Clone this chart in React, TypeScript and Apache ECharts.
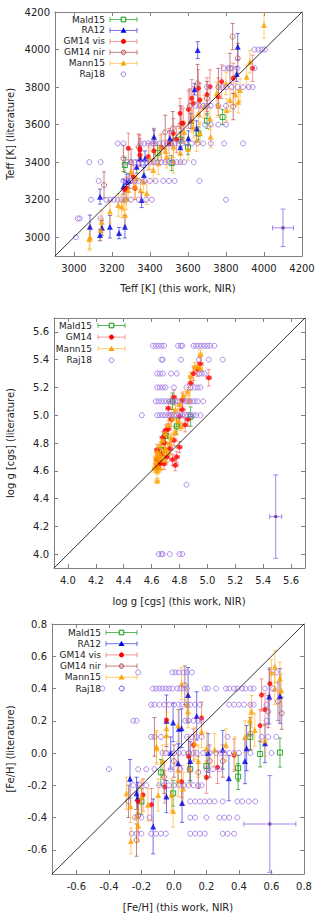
import React, { useEffect, useRef } from "react";
import * as echarts from "echarts";

// ---------- Panel 1: Teff ----------
const teffTicks = [3000, 3200, 3400, 3600, 3800, 4000, 4200];
const teffMald15 = [[3782, 3640, 40], [3655, 3553, 35], [3268, 3385, 40], [3514, 3395, 40], [3600, 3480, 40], [3700, 3620, 40], [3440, 3450, 40], [3560, 3520, 40]];
const teffRA12 = [[3084, 3056, 62], [3137, 3012, 30], [3147, 3050, 40], [3189, 3056, 60], [3237, 3022, 30], [3268, 3056, 60], [3137, 3216, 40], [3277, 3296, 40], [3260, 3270, 40], [3356, 3198, 40], [3368, 3331, 40], [3330, 3376, 35], [3374, 3420, 40], [3421, 3536, 35], [3505, 3527, 40], [3602, 3527, 40], [3635, 3788, 30], [3645, 3580, 40], [3616, 3620, 40], [3651, 3997, 45], [3862, 4015, 70], [3856, 3870, 40], [3290, 3300, 40], [3350, 3420, 40], [3560, 3480, 40]];
const teffGM14vis = [[3286, 3474, 80], [3347, 3474, 70], [3567, 3607, 90], [3602, 3681, 100], [3655, 3793, 100], [3716, 3802, 90], [3663, 3731, 90], [3759, 3749, 100], [3838, 3847, 80], [3940, 3900, 70], [3777, 3829, 90], [3558, 3660, 80], [3628, 3713, 90], [3347, 3438, 60], [3391, 3429, 70], [3312, 3322, 60], [3277, 3261, 60], [3321, 3261, 60], [3268, 3252, 50], [3347, 3465, 60], [3523, 3553, 80], [3575, 3607, 80], [3460, 3480, 70], [3500, 3500, 80], [3620, 3740, 100], [3700, 3760, 90], [3540, 3520, 70], [3420, 3460, 70]];
const teffGM14nir = [[3835, 4069, 70], [3862, 3953, 80], [3821, 3900, 80], [3838, 3696, 70], [3158, 3278, 70], [3260, 3420, 70], [3340, 3480, 70], [3420, 3500, 80], [3480, 3560, 90], [3560, 3600, 100], [3610, 3700, 90], [3700, 3740, 90], [3760, 3800, 100], [3300, 3400, 70], [3520, 3580, 90], [3650, 3820, 100]];
const teffMann15 = [[3084, 2999, 60], [3146, 3083, 60], [3189, 3137, 60], [3233, 3172, 60], [3251, 3163, 60], [3268, 3118, 60], [3277, 3207, 60], [3286, 3252, 60], [3321, 3269, 60], [3330, 3314, 60], [3365, 3296, 60], [3383, 3234, 60], [3417, 3358, 60], [3444, 3394, 60], [3488, 3429, 60], [3523, 3402, 60], [3560, 3450, 60], [3600, 3470, 60], [4000, 4131, 70], [3926, 3935, 60], [3909, 3855, 60], [3874, 3784, 60], [3865, 3722, 60], [3821, 3731, 60], [3850, 3760, 60], [3803, 3678, 60], [3751, 3767, 60], [3716, 3633, 60], [3684, 3695, 60], [3655, 3660, 60], [3628, 3589, 60], [3719, 3536, 60], [3663, 3554, 60], [3645, 3518, 60], [3523, 3483, 60], [3453, 3483, 60], [3140, 3040, 60], [3080, 2990, 60], [3300, 3350, 60], [3400, 3420, 60], [3480, 3460, 60], [3580, 3560, 60], [3620, 3620, 60], [3760, 3700, 60], [3800, 3820, 60], [3260, 3200, 60], [3350, 3250, 60]];
const teffRaj18Rows: [number, number[]][] = [
  [4000, [3950, 3970, 3990, 4005]],
  [3900, [3790, 3810, 3830, 3860, 3950]],
  [3800, [3700, 3780, 3800, 3830, 3860, 3890, 3920, 3940]],
  [3700, [3640, 3660, 3680, 3700, 3720, 3760, 3800]],
  [3600, [3690, 3720, 3760, 3800]],
  [3500, [3230, 3260, 3350, 3370, 3390, 3410, 3430, 3450, 3470, 3490, 3510, 3530, 3550, 3570, 3590, 3620, 3650, 3680, 3720, 3790, 3890]],
  [3400, [3080, 3140, 3280, 3300, 3320, 3340, 3360, 3380, 3400, 3420, 3440, 3460, 3480, 3500, 3520, 3540, 3560, 3580, 3630]],
  [3300, [3130, 3260, 3280, 3300, 3320, 3340, 3370, 3400, 3430, 3470, 3500, 3530, 3660]],
  [3200, [3090, 3170, 3190, 3210, 3230, 3250, 3270, 3300, 3340, 3380, 3410, 3800]],
  [3100, [3020, 3030, 3140]],
  [3000, [3010]],
];
const teffTypical = [[4100, 3050, 100, 55]];

// ---------- Panel 2: log g ----------
const loggTicks = [4.0, 4.2, 4.4, 4.6, 4.8, 5.0, 5.2, 5.4, 5.6];
const loggMald15 = [[4.88, 4.99, 0.07], [4.75, 5.10, 0.06], [4.70, 4.85, 0.05], [4.67, 4.75, 0.05], [4.78, 4.92, 0.06]];
const loggGM14 = [[4.95, 5.37, 0.05], [5.01, 5.27, 0.06], [4.88, 5.23, 0.05], [4.93, 5.33, 0.05], [4.76, 5.13, 0.05], [4.82, 5.11, 0.05], [4.72, 5.05, 0.05], [4.82, 5.04, 0.05], [4.74, 4.97, 0.05], [4.80, 4.99, 0.05], [4.86, 4.97, 0.05], [4.70, 4.89, 0.04], [4.76, 4.82, 0.04], [4.69, 4.80, 0.04], [4.64, 4.75, 0.04], [4.66, 4.65, 0.04], [4.71, 4.70, 0.04], [4.78, 4.70, 0.04], [4.80, 4.77, 0.04], [4.64, 4.63, 0.04], [4.69, 4.65, 0.04], [4.77, 4.64, 0.04], [4.64, 4.68, 0.04], [4.67, 4.72, 0.04], [4.73, 4.76, 0.04], [4.75, 4.68, 0.04], [4.68, 4.84, 0.04], [4.72, 4.90, 0.04], [4.84, 4.93, 0.05], [4.90, 5.30, 0.05], [4.66, 4.66, 0.04]];
const loggMann15 = [[4.95, 5.44, 0.03], [4.93, 5.35, 0.03], [4.95, 5.34, 0.03], [4.88, 5.28, 0.03], [4.91, 5.35, 0.03], [4.86, 5.17, 0.03], [4.83, 5.14, 0.03], [4.80, 5.08, 0.03], [4.77, 5.04, 0.03], [4.75, 4.98, 0.03], [4.79, 4.96, 0.03], [4.72, 4.93, 0.03], [4.70, 4.87, 0.03], [4.74, 4.84, 0.03], [4.68, 4.82, 0.03], [4.66, 4.78, 0.03], [4.70, 4.76, 0.03], [4.64, 4.74, 0.03], [4.66, 4.72, 0.03], [4.63, 4.70, 0.03], [4.65, 4.68, 0.03], [4.63, 4.66, 0.03], [4.64, 4.64, 0.03], [4.62, 4.62, 0.03], [4.64, 4.60, 0.03], [4.64, 4.53, 0.02], [4.67, 4.70, 0.03], [4.69, 4.74, 0.03], [4.73, 4.80, 0.03], [4.77, 4.88, 0.03], [4.81, 4.92, 0.03], [4.69, 4.68, 0.03], [4.72, 4.73, 0.03], [4.66, 4.62, 0.03], [4.87, 5.11, 0.03]];
const loggRaj18Rows: [number, number[]][] = [
  [5.5, [4.61, 4.63, 4.65, 4.67, 4.69, 4.79, 4.81, 4.82, 4.90, 4.92, 4.94, 4.96, 4.98, 5.00, 5.02, 5.05]],
  [5.4, [4.67, 4.68, 4.81, 4.94, 5.01, 5.11]],
  [5.3, [4.64, 4.66, 4.68, 4.74, 4.78, 4.94, 4.96, 4.98]],
  [5.2, [4.64, 4.66, 4.68, 4.70, 4.76, 4.85, 4.88, 4.91, 4.93, 4.95]],
  [5.1, [4.63, 4.65, 4.67, 4.69, 4.71, 4.73, 4.75, 4.77, 4.79, 4.83, 4.85, 4.87, 4.89, 4.91, 4.93, 4.97]],
  [5.0, [4.53, 4.64, 4.66, 4.68, 4.70, 4.72, 4.74, 4.76, 4.78, 4.80, 4.82, 4.84, 4.86, 4.88, 4.90, 4.92, 4.95]],
  [4.5, [4.85]],
  [4.0, [4.65, 4.67, 4.68, 4.73, 4.80, 4.82]],
];
const loggTypical = [[5.49, 4.27, 0.3, 0.043]];

// ---------- Panel 3: [Fe/H] ----------
const fehTicks = [-0.6, -0.4, -0.2, 0.0, 0.2, 0.4, 0.6, 0.8];
const fehMald15 = [[0.652, 0.003, 0.09], [0.53, -0.006, 0.08], [0.395, -0.094, 0.08], [0.395, -0.146, 0.08], [-0.005, -0.25, 0.08], [-0.2, -0.3, 0.08], [0.1, -0.1, 0.08], [0.2, -0.08, 0.08], [-0.08, -0.12, 0.08], [0.47, 0.1, 0.08]];
const fehRA12 = [[0.087, 0.36, 0.17], [-0.046, 0.20, 0.16], [0.047, 0.154, 0.12], [0.14, 0.23, 0.15], [0.447, 0.03, 0.14], [0.56, 0.06, 0.12], [0.586, 0.35, 0.17], [-0.27, -0.16, 0.12], [-0.224, -0.28, 0.1], [-0.128, -0.455, 0.17], [-0.005, 0.19, 0.12], [0.03, 0.15, 0.12], [-0.046, -0.27, 0.1], [0.652, 0.354, 0.17], [0.338, -0.156, 0.14], [0.21, 0.0, 0.12], [0.026, -0.063, 0.12], [0.437, -0.05, 0.14], [-0.02, 0.0, 0.1], [0.10, -0.05, 0.12], [0.30, 0.02, 0.12], [-0.23, -0.25, 0.1], [0.05, -0.31, 0.12]];
const fehGM14vis = [[0.17, 0.216, 0.1], [0.59, 0.43, 0.1], [0.53, 0.17, 0.1], [0.56, 0.27, 0.1], [0.37, -0.013, 0.1], [-0.138, -0.32, 0.1], [-0.046, 0.205, 0.1], [-0.19, -0.26, 0.1], [-0.056, -0.21, 0.1], [0.047, -0.177, 0.1], [0.268, -0.089, 0.1], [0.539, 0.36, 0.1], [0.09, -0.02, 0.1], [0.20, -0.15, 0.1], [-0.22, -0.30, 0.1], [0.12, 0.05, 0.1]];
const fehGM14nir = [[0.067, 0.42, 0.12], [0.58, 0.257, 0.1], [0.64, 0.32, 0.12], [0.663, 0.247, 0.1], [-0.22, -0.39, 0.1], [-0.23, -0.54, 0.1], [-0.12, 0.10, 0.12], [0.0, -0.05, 0.1], [0.15, -0.12, 0.1], [0.30, -0.05, 0.1], [-0.06, -0.15, 0.1], [0.09, 0.00, 0.1], [0.22, -0.05, 0.1], [-0.28, -0.30, 0.1], [0.47, 0.12, 0.1]];
const fehMann15 = [[-0.107, 0.04, 0.1], [-0.046, 0.11, 0.1], [0.047, 0.43, 0.1], [0.087, 0.257, 0.1], [0.17, 0.133, 0.1], [0.32, 0.05, 0.1], [0.437, 0.10, 0.1], [0.467, 0.205, 0.1], [0.621, 0.535, 0.1], [0.652, 0.464, 0.1], [0.66, 0.39, 0.1], [0.478, 0.257, 0.1], [-0.292, -0.249, 0.1], [-0.267, -0.33, 0.1], [-0.265, -0.545, 0.08], [-0.23, -0.39, 0.1], [-0.22, -0.45, 0.1], [-0.2, -0.27, 0.1], [-0.16, -0.32, 0.1], [-0.107, 0.03, 0.1], [-0.097, -0.26, 0.1], [-0.015, -0.26, 0.1], [-0.005, -0.36, 0.1], [-0.046, 0.154, 0.1], [0.026, -0.104, 0.1], [0.026, 0.17, 0.1], [0.129, 0.06, 0.1], [0.25, 0.02, 0.1], [0.375, 0.0, 0.1], [0.497, 0.143, 0.1], [0.56, 0.08, 0.1], [0.62, 0.40, 0.1], [0.026, -0.17, 0.1], [0.098, -0.1, 0.1], [0.057, -0.22, 0.1], [0.08, 0.30, 0.1], [-0.07, -0.05, 0.1], [0.15, -0.05, 0.1], [0.20, 0.03, 0.1], [0.60, 0.50, 0.08]];
const fehRaj18Rows: [number, number[]][] = [
  [0.5, [-0.22, -0.01, 0.01, 0.03, 0.06, 0.08, 0.11, 0.63]],
  [0.4, [-0.44, -0.32, -0.13, -0.11, -0.09, -0.07, -0.05, -0.03, -0.01, 0.02, 0.04, 0.06, 0.08, 0.19, 0.21, 0.26, 0.32, 0.34, 0.37, 0.39, 0.42, 0.44, 0.47, 0.49, 0.56, 0.61]],
  [0.3, [-0.14, -0.12, -0.09, -0.06, -0.03, 0.0, 0.03, 0.05, 0.08, 0.10, 0.13, 0.16, 0.34, 0.37, 0.40, 0.43, 0.47, 0.49, 0.57]],
  [0.2, [-0.25, -0.23, 0.07, 0.09, 0.12, 0.15, 0.17, 0.57]],
  [0.1, [-0.14, -0.08, 0.08, 0.11, 0.14, 0.17, 0.33, 0.54, 0.58, 0.63]],
  [0.0, [-0.07, -0.05, -0.02, 0.0, 0.03, 0.06, 0.09, 0.12, 0.14, 0.18, 0.22, 0.26, 0.29, 0.31, 0.34, 0.37, 0.40, 0.47, 0.60]],
  [-0.1, [-0.40, -0.22, -0.17, -0.12, -0.02, 0.04, 0.10, 0.20, 0.24, 0.28]],
  [-0.2, [-0.25, -0.21, -0.17, -0.09, -0.06, -0.03, 0.0, 0.03, 0.06, 0.09, 0.12, 0.15, 0.17]],
  [-0.3, [0.10, 0.13, 0.16, 0.19, 0.22, 0.25, 0.30, 0.39, 0.42, 0.46, 0.50]],
  [-0.4, [-0.24, -0.20, -0.15, 0.10, 0.13, 0.20, 0.28, 0.31, 0.34, 0.39]],
  [-0.5, [-0.26, -0.23, -0.20, -0.14, -0.11, -0.08, -0.05, 0.10, 0.13, 0.16, 0.19, 0.30, 0.33, 0.37]],
];
const fehTypical = [[0.59, -0.44, 0.3, 0.16]];

// ---------- styles ----------
const FONT = "DejaVu Sans";
const STY: any = {
  Mald15: { color: "#009a00", bar: "rgba(0,150,0,0.65)", symbol: "rect", size: 5, open: true },
  RA12: { color: "#0000e6", bar: "rgba(20,20,220,0.6)", symbol: "triangle", size: 6, open: false },
  GM14vis: { color: "#ff0000", bar: "rgba(235,70,70,0.55)", symbol: "circle", size: 5, open: false },
  GM14nir: { color: "#b25a5a", bar: "rgba(170,80,80,0.7)", symbol: "circle", size: 5, open: true },
  Mann15: { color: "#ffa000", bar: "rgba(255,170,20,0.6)", symbol: "triangle", size: 6, open: false },
  Raj18: { color: "#9b6fe6", bar: "rgba(155,111,230,0.8)", symbol: "circle", size: 5, open: true },
};

function rowsToPts(rows: [number, number[]][]) {
  const out: number[][] = [];
  rows.forEach(([y, xs]) => xs.forEach((x) => out.push([x, y])));
  return out;
}

function errSeries(data: number[][], xerr: number, color: string, ai: number, cap = 2) {
  return {
    type: "custom",
    xAxisIndex: ai,
    yAxisIndex: ai,
    clip: true,
    silent: true,
    data: data.map((d) => [d[0], d[1], d[2], d[3] !== undefined ? d[3] : xerr]),
    encode: { x: 0, y: 1 },
    renderItem: (params: any, api: any) => {
      const x = api.value(0), y = api.value(1), ey = api.value(2), ex = api.value(3);
      const st = { stroke: color, lineWidth: 1 };
      const ch: any[] = [];
      if (ey > 0) {
        const a = api.coord([x, y + ey]);
        const b = api.coord([x, y - ey]);
        ch.push({ type: "line", shape: { x1: a[0], y1: a[1], x2: b[0], y2: b[1] }, style: st });
        ch.push({ type: "line", shape: { x1: a[0] - cap, y1: a[1], x2: a[0] + cap, y2: a[1] }, style: st });
        ch.push({ type: "line", shape: { x1: b[0] - cap, y1: b[1], x2: b[0] + cap, y2: b[1] }, style: st });
      }
      if (ex > 0) {
        const l = api.coord([x - ex, y]);
        const r = api.coord([x + ex, y]);
        ch.push({ type: "line", shape: { x1: l[0], y1: l[1], x2: r[0], y2: r[1] }, style: st });
        ch.push({ type: "line", shape: { x1: l[0], y1: l[1] - cap, x2: l[0], y2: l[1] + cap }, style: st });
        ch.push({ type: "line", shape: { x1: r[0], y1: r[1] - cap, x2: r[0], y2: r[1] + cap }, style: st });
      }
      return { type: "group", children: ch };
    },
  };
}

function scatterSeries(data: number[][], key: string, ai: number) {
  const s = STY[key];
  return {
    type: "scatter",
    xAxisIndex: ai,
    yAxisIndex: ai,
    silent: true,
    symbol: s.symbol,
    symbolSize: s.size,
    itemStyle: s.open
      ? { color: "rgba(255,255,255,0)", borderColor: s.color, borderWidth: 1 }
      : { color: s.color },
    data: data.map((d) => [d[0], d[1]]),
  };
}

function dataset(data: number[][], key: string, ai: number, xerr = 0) {
  return [errSeries(data, xerr, STY[key].bar, ai), scatterSeries(data, key, ai)];
}

function diag(min: number, max: number, ai: number) {
  return {
    type: "line",
    xAxisIndex: ai,
    yAxisIndex: ai,
    silent: true,
    showSymbol: false,
    symbol: "none",
    z: 3,
    lineStyle: { color: "#000", width: 0.8 },
    data: [[min, min], [max, max]],
  };
}

function typical(data: number[][], ai: number) {
  return [
    errSeries(data, 0, "rgba(155,111,230,0.85)", ai, 2.5),
    {
      type: "scatter", xAxisIndex: ai, yAxisIndex: ai, silent: true, symbol: "rect", symbolSize: 3,
      itemStyle: { color: "#5a2aa0" }, data: data.map((d) => [d[0], d[1]]),
    },
  ];
}

const AX = "#808080";
function axes(gi: number, min: number, max: number, ticks: number[], fmt: (v: number) => string) {
  const common = (pos: string, label: boolean, isX: boolean) => ({
    type: "value",
    gridIndex: gi,
    min,
    max,
    position: pos,
    axisLine: { show: true, onZero: false, lineStyle: { color: AX, width: 1 } },
    axisTick: { show: true, inside: true, length: 4, customValues: ticks, lineStyle: { color: AX } },
    axisLabel: label
      ? { show: true, customValues: ticks, formatter: (v: number) => fmt(v), color: "#222", fontSize: 10, fontFamily: FONT, margin: isX ? 7 : 5 }
      : { show: false },
    splitLine: { show: false },
  });
  return {
    x: [common("bottom", true, true), common("top", false, true)],
    y: [common("left", true, false), common("right", false, false)],
  };
}

function legend(entries: { name: string; key: string; bar: boolean }[], tx: number, y0: number, dy: number, lx1: number, lx2: number) {
  const els: any[] = [];
  entries.forEach((e, i) => {
    const y = y0 + i * dy;
    const s = STY[e.key];
    els.push({ type: "text", x: tx, y, style: { text: e.name, align: "right", verticalAlign: "middle", font: `9px "${FONT}"`, fill: "#222" } });
    const cx = (lx1 + lx2) / 2;
    if (e.bar) {
      const st = { stroke: s.bar, lineWidth: 1 };
      els.push({ type: "line", shape: { x1: lx1, y1: y, x2: lx2, y2: y }, style: st });
      els.push({ type: "line", shape: { x1: lx1, y1: y - 2.5, x2: lx1, y2: y + 2.5 }, style: st });
      els.push({ type: "line", shape: { x1: lx2, y1: y - 2.5, x2: lx2, y2: y + 2.5 }, style: st });
    }
    if (s.symbol === "triangle") {
      els.push({ type: "polygon", shape: { points: [[cx, y - 3], [cx - 3, y + 2.2], [cx + 3, y + 2.2]] }, style: { fill: s.color } });
    } else if (s.symbol === "rect") {
      els.push({ type: "rect", shape: { x: cx - 2.3, y: y - 2.3, width: 4.6, height: 4.6 }, style: { fill: "#fff", stroke: s.color, lineWidth: 1 } });
    } else if (s.open) {
      els.push({ type: "circle", shape: { cx, cy: y, r: 2.3 }, style: { fill: e.key === "Raj18" ? "none" : "#e0b0b0", stroke: s.color, lineWidth: 1 } });
    } else {
      els.push({ type: "circle", shape: { cx, cy: y, r: 2.5 }, style: { fill: s.color } });
    }
  });
  return els;
}

function title(text: string, x: number, y: number, rot = false) {
  return {
    type: "text",
    x,
    y,
    rotation: rot ? Math.PI / 2 : 0,
    style: { text, align: "center", verticalAlign: "middle", font: `10px "${FONT}"`, fill: "#222" },
  };
}

export default function App() {
  const ref = useRef<HTMLDivElement>(null);
  useEffect(() => {
    if (!ref.current) return;
    const chart = echarts.init(ref.current, undefined, { renderer: "svg" });
    const f0 = (v: number) => String(Math.round(v));
    const f1 = (v: number) => (Math.abs(v) < 1e-9 ? 0 : v).toFixed(1);
    const a0 = axes(0, 2900, 4200, teffTicks, f0);
    const a1 = axes(1, 3.9, 5.7, loggTicks, f1);
    const a2 = axes(2, -0.75, 0.8, fehTicks, f1);
    // axis indices: grid0 -> 0 (bottom/left), 1 (top/right); grid1 -> 2,3; grid2 -> 4,5
    const series: any[] = [
      ...dataset(teffMald15, "Mald15", 0),
      ...dataset(teffRA12, "RA12", 0),
      ...dataset(teffGM14vis, "GM14vis", 0),
      ...dataset(teffGM14nir, "GM14nir", 0),
      ...dataset(teffMann15, "Mann15", 0),
      scatterSeries(rowsToPts(teffRaj18Rows), "Raj18", 0),
      ...typical(teffTypical, 0),
      diag(2900, 4200, 0),

      ...dataset(loggMald15, "Mald15", 2, 0.015),
      ...dataset(loggGM14, "GM14vis", 2, 0.02),
      ...dataset(loggMann15, "Mann15", 2, 0.015),
      scatterSeries(rowsToPts(loggRaj18Rows), "Raj18", 2),
      ...typical(loggTypical, 2),
      diag(3.9, 5.7, 2),

      ...dataset(fehMald15, "Mald15", 4),
      ...dataset(fehRA12, "RA12", 4),
      ...dataset(fehGM14vis, "GM14vis", 4),
      ...dataset(fehGM14nir, "GM14nir", 4),
      ...dataset(fehMann15, "Mann15", 4),
      scatterSeries(rowsToPts(fehRaj18Rows), "Raj18", 4),
      ...typical(fehTypical, 4),
      diag(-0.75, 0.8, 4),
    ];
    const full = [
      { name: "Mald15", key: "Mald15", bar: true },
      { name: "RA12", key: "RA12", bar: true },
      { name: "GM14 vis", key: "GM14vis", bar: true },
      { name: "GM14 nir", key: "GM14nir", bar: true },
      { name: "Mann15", key: "Mann15", bar: true },
      { name: "Raj18", key: "Raj18", bar: false },
    ];
    const short = [
      { name: "Mald15", key: "Mald15", bar: true },
      { name: "GM14", key: "GM14vis", bar: true },
      { name: "Mann15", key: "Mann15", bar: true },
      { name: "Raj18", key: "Raj18", bar: false },
    ];
    chart.setOption({
      animation: false,
      backgroundColor: "#fff",
      textStyle: { fontFamily: FONT },
      grid: [
        { left: 55, top: 12, width: 247, height: 244, containLabel: false, outerBoundsMode: "none" },
        { left: 54, top: 318, width: 251, height: 250, containLabel: false, outerBoundsMode: "none" },
        { left: 52, top: 624, width: 252, height: 250, containLabel: false, outerBoundsMode: "none" },
      ],
      xAxis: [...a0.x, ...a1.x, ...a2.x],
      yAxis: [...a0.y, ...a1.y, ...a2.y],
      series,
      graphic: [
        ...legend(full, 105, 19.5, 10.95, 110, 137),
        ...legend(short, 92, 325.5, 11.6, 98, 125),
        ...legend(full, 101, 632.5, 11.2, 106, 137),
        title("Teff [K] (this work, NIR)", 178, 288),
        title("Teff [K] (literature)", 10, 134, true),
        title("log g [cgs] (this work, NIR)", 179, 601),
        title("log g [cgs] (literature)", 10, 443, true),
        title("[Fe/H] (this work, NIR)", 178, 907),
        title("[Fe/H] (literature)", 10, 749, true),
      ],
    });
    return () => chart.dispose();
  }, []);
  return <div ref={ref} style={{ position: "absolute", left: 0, top: 0, width: 322, height: 920 }} />;
}
